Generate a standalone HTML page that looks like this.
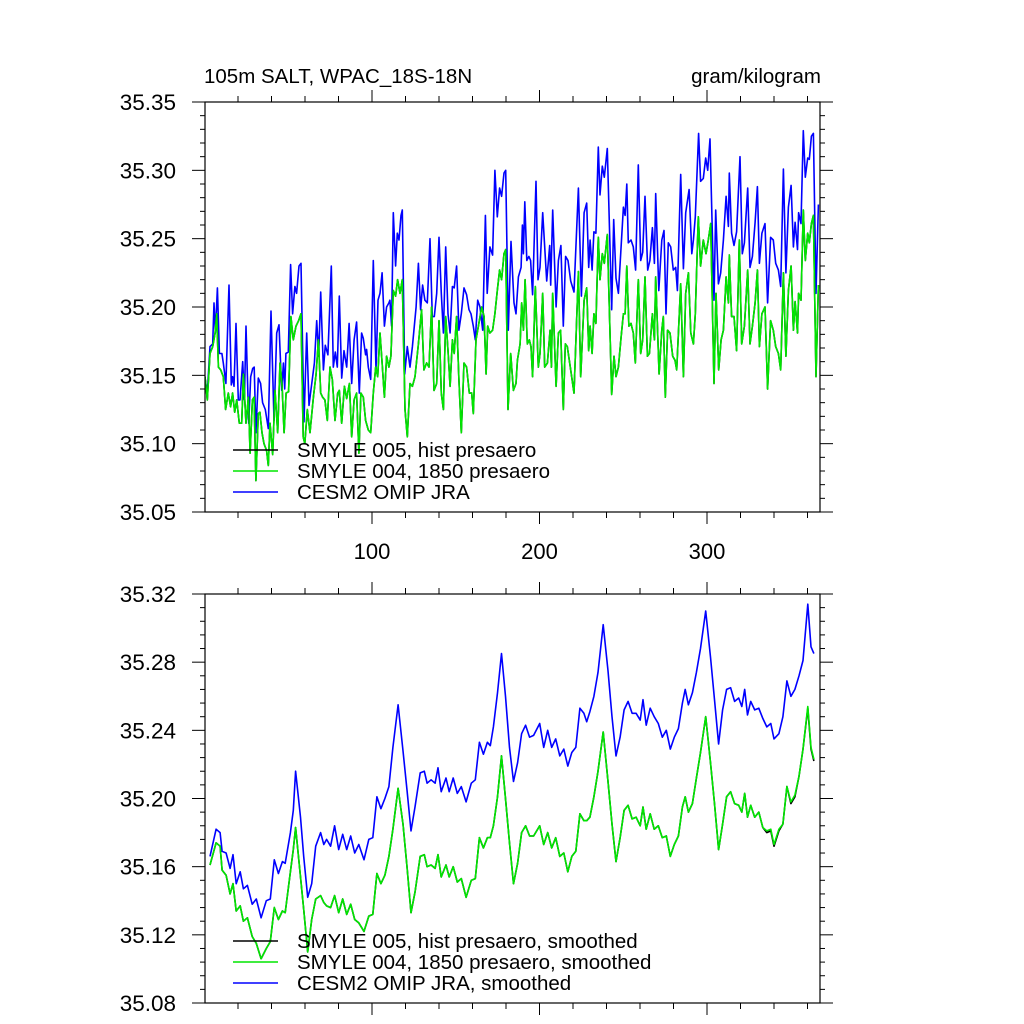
<!DOCTYPE html>
<html><head><meta charset="utf-8"><style>
html,body{margin:0;padding:0;background:#fff;}
svg{display:block;font-family:"Liberation Sans",sans-serif;}
</style></head><body>
<svg id="chart" width="1024" height="1024" viewBox="0 0 1024 1024" xmlns="http://www.w3.org/2000/svg">
<defs>
<clipPath id="clipTop"><rect x="205" y="102" width="615" height="410"/></clipPath>
<clipPath id="clipBot"><rect x="205" y="594" width="615" height="409"/></clipPath>
</defs>
<text x="204" y="83" font-size="20.5">105m SALT, WPAC_18S-18N</text>
<text x="821" y="83" font-size="20.5" text-anchor="end">gram/kilogram</text>
<g id="topAxes"></g>
<g id="botAxes"></g>
</svg>
<script>
const xTickValues = [100, 200, 300];
const topYTicks = [35.05, 35.10, 35.15, 35.20, 35.25, 35.30, 35.35];
const topYLabels = ["35.05","35.10","35.15","35.20","35.25","35.30","35.35"];
const botYTicks = [35.08, 35.12, 35.16, 35.20, 35.24, 35.28, 35.32];
const botYLabels = ["35.08","35.12","35.16","35.20","35.24","35.28","35.32"];

const topBlueDays = [0.3,1.7,3.3,4.9,5.7,6.5,7.7,8.9,10.4,11.2,12.8,14.6,16.0,16.8,17.6,18.8,20.2,21.2,22.8,23.8,24.8,26.4,27.6,28.8,29.7,30.7,32.1,33.5,34.7,36.3,38.1,39.7,41.5,43.1,44.5,46.1,47.1,47.9,48.6,50.0,51.4,52.6,54.0,55.0,56.4,57.6,59.4,61.0,62.4,63.8,65.6,67.0,68.2,69.4,71.0,72.1,73.7,75.7,76.9,78.1,79.3,80.5,81.9,83.3,84.9,86.3,87.9,89.3,90.8,92.4,93.8,94.8,96.2,96.8,97.8,99.2,100.8,102.4,103.6,104.8,106.0,107.4,108.7,110.1,110.7,111.7,112.7,114.1,115.1,116.1,117.3,118.1,119.5,121.1,122.7,124.1,126.3,127.7,129.0,130.2,131.6,133.0,134.6,136.0,137.2,138.6,140.0,141.4,142.6,144.0,145.4,146.6,148.0,149.1,150.5,151.9,153.3,154.9,156.5,157.9,159.1,160.5,161.7,163.1,164.5,166.1,167.7,168.8,170.4,172.0,173.4,174.8,176.2,177.4,178.8,179.8,181.4,183.0,184.8,186.0,187.4,189.0,189.8,190.4,191.2,192.4,193.7,194.7,195.9,197.9,199.1,200.3,201.9,203.1,204.3,206.1,206.7,207.9,209.9,211.3,212.8,214.2,215.6,217.0,218.6,220.6,223.2,225.0,226.6,228.2,229.4,230.2,231.4,232.5,233.7,235.1,236.1,237.5,238.7,240.5,243.1,244.3,245.7,247.1,250.1,251.1,252.1,253.0,254.6,256.0,257.4,259.0,260.4,261.6,263.0,264.6,265.9,267.4,268.6,269.4,271.2,273.0,274.3,275.5,276.9,278.3,279.9,281.3,282.3,284.3,285.9,287.3,289.3,290.9,291.9,293.0,295.0,296.2,297.8,299.2,300.4,301.8,304.2,305.2,306.8,308.2,309.8,311.4,312.8,313.3,314.7,316.1,317.7,319.7,321.1,322.3,324.3,325.7,327.1,328.7,330.1,331.3,332.8,334.6,336.2,338.0,339.6,341.0,342.6,344.0,345.6,347.1,348.6,350.2,351.6,352.6,354.0,354.7,356.1,357.5,358.7,360.1,361.1,362.3,363.5,365.1,366.5];
const topBlueValues = [35.148,35.137,35.171,35.173,35.203,35.181,35.214,35.166,35.166,35.159,35.144,35.216,35.143,35.149,35.142,35.188,35.132,35.132,35.160,35.132,35.186,35.115,35.149,35.155,35.156,35.108,35.148,35.144,35.130,35.125,35.111,35.197,35.117,35.181,35.187,35.139,35.159,35.140,35.166,35.167,35.231,35.195,35.215,35.210,35.230,35.232,35.116,35.181,35.128,35.142,35.159,35.190,35.164,35.211,35.154,35.172,35.165,35.230,35.156,35.167,35.156,35.208,35.148,35.168,35.156,35.188,35.144,35.176,35.189,35.137,35.181,35.177,35.165,35.169,35.156,35.147,35.234,35.154,35.205,35.210,35.225,35.186,35.200,35.203,35.205,35.186,35.269,35.230,35.254,35.249,35.267,35.271,35.151,35.171,35.156,35.171,35.200,35.232,35.198,35.216,35.205,35.203,35.250,35.193,35.193,35.210,35.251,35.210,35.181,35.244,35.195,35.181,35.215,35.214,35.230,35.183,35.195,35.214,35.209,35.198,35.195,35.186,35.176,35.205,35.200,35.183,35.267,35.210,35.244,35.238,35.300,35.266,35.287,35.281,35.298,35.300,35.183,35.248,35.203,35.195,35.222,35.229,35.260,35.239,35.277,35.234,35.237,35.234,35.209,35.292,35.220,35.229,35.269,35.244,35.219,35.245,35.216,35.271,35.200,35.234,35.245,35.186,35.237,35.234,35.219,35.211,35.287,35.208,35.269,35.276,35.229,35.249,35.227,35.255,35.254,35.317,35.282,35.303,35.295,35.316,35.198,35.264,35.221,35.210,35.273,35.267,35.290,35.247,35.249,35.244,35.227,35.304,35.234,35.240,35.281,35.227,35.234,35.258,35.232,35.283,35.212,35.249,35.256,35.195,35.247,35.244,35.227,35.229,35.212,35.297,35.228,35.269,35.286,35.239,35.249,35.266,35.327,35.292,35.294,35.309,35.300,35.323,35.205,35.271,35.217,35.225,35.249,35.281,35.259,35.298,35.254,35.245,35.255,35.310,35.239,35.247,35.287,35.229,35.237,35.262,35.288,35.232,35.254,35.261,35.203,35.251,35.249,35.232,35.227,35.215,35.301,35.225,35.273,35.289,35.244,35.262,35.242,35.269,35.261,35.329,35.295,35.309,35.308,35.325,35.327,35.210,35.275];

const topGreenDays = [0.3,1.7,3.3,4.9,6.3,7.3,8.3,9.7,11.2,12.6,14.2,15.6,16.8,18.0,19.2,20.8,22.2,23.2,24.8,26.2,27.2,28.6,29.6,30.7,32.1,33.1,34.3,35.5,37.1,38.1,39.1,40.7,42.1,43.7,45.1,46.3,47.5,48.7,50.2,51.6,53.0,54.6,56.2,57.6,58.9,59.9,61.4,63.0,65.0,66.6,68.0,69.4,70.5,71.9,73.3,74.9,76.3,77.9,79.5,80.5,81.9,83.5,84.9,86.5,87.9,89.3,90.8,92.2,93.4,94.8,96.2,97.8,99.2,100.8,102.2,103.4,104.8,106.2,107.4,108.7,110.1,111.3,112.7,114.1,115.3,116.7,118.1,119.7,121.1,122.7,124.1,125.7,127.7,129.6,131.0,132.6,134.0,135.6,137.0,138.6,140.0,141.4,142.6,144.0,145.4,146.6,148.0,149.1,150.5,151.9,153.3,154.9,156.5,158.1,159.5,160.5,162.1,163.5,165.5,166.9,168.1,169.1,170.4,172.0,173.4,174.8,176.2,177.4,178.8,179.8,181.2,182.8,184.4,186.0,186.8,188.4,189.4,190.4,191.4,192.7,193.9,194.9,195.9,197.5,199.3,200.3,201.9,203.1,204.7,206.3,207.1,207.9,209.9,211.3,212.6,214.2,215.4,216.6,218.6,220.6,223.2,224.6,226.6,228.2,229.4,230.2,231.4,232.5,233.7,235.1,236.1,237.5,238.7,240.5,243.1,244.5,245.7,247.1,248.7,250.1,251.1,252.1,253.4,254.6,256.0,257.2,259.0,260.4,261.6,263.0,264.4,265.6,267.4,268.6,269.4,271.4,273.0,273.9,275.1,276.5,277.9,279.5,280.9,281.9,284.3,285.9,287.3,288.9,290.3,291.9,293.0,294.8,296.2,297.8,299.4,300.8,302.2,304.2,305.4,307.0,308.4,309.8,311.4,312.8,313.3,314.7,316.1,317.7,319.3,320.7,322.3,324.3,325.7,327.1,328.7,330.1,331.3,332.8,334.6,336.2,338.0,339.6,341.0,342.6,344.0,345.6,347.1,348.6,350.2,351.6,352.6,354.0,354.7,356.1,357.5,358.7,360.1,361.1,362.3,363.5,365.1,366.5];
const topGreenValues = [35.149,35.132,35.166,35.171,35.181,35.195,35.156,35.154,35.149,35.125,35.137,35.127,35.137,35.123,35.132,35.115,35.115,35.151,35.115,35.134,35.093,35.132,35.134,35.073,35.122,35.123,35.108,35.100,35.095,35.084,35.115,35.092,35.139,35.108,35.159,35.142,35.108,35.137,35.138,35.193,35.176,35.186,35.190,35.195,35.105,35.100,35.125,35.108,35.134,35.151,35.176,35.137,35.134,35.132,35.117,35.156,35.147,35.117,35.137,35.139,35.115,35.142,35.133,35.144,35.105,35.132,35.137,35.093,35.137,35.134,35.117,35.110,35.108,35.137,35.156,35.149,35.181,35.156,35.134,35.164,35.156,35.164,35.212,35.208,35.220,35.210,35.220,35.125,35.105,35.144,35.142,35.149,35.173,35.198,35.154,35.159,35.156,35.200,35.139,35.144,35.190,35.137,35.125,35.193,35.168,35.142,35.176,35.166,35.193,35.147,35.108,35.159,35.156,35.137,35.137,35.122,35.176,35.186,35.200,35.193,35.151,35.186,35.181,35.183,35.195,35.212,35.227,35.220,35.239,35.242,35.125,35.166,35.139,35.144,35.161,35.173,35.203,35.183,35.220,35.173,35.176,35.171,35.149,35.215,35.156,35.166,35.210,35.156,35.159,35.183,35.156,35.210,35.142,35.181,35.183,35.125,35.173,35.171,35.154,35.137,35.226,35.149,35.205,35.214,35.168,35.186,35.166,35.195,35.188,35.251,35.220,35.239,35.232,35.253,35.136,35.164,35.149,35.156,35.178,35.195,35.195,35.230,35.186,35.188,35.181,35.159,35.220,35.166,35.176,35.222,35.164,35.166,35.195,35.176,35.222,35.151,35.183,35.193,35.134,35.183,35.181,35.164,35.161,35.154,35.217,35.149,35.210,35.225,35.181,35.173,35.195,35.266,35.230,35.249,35.239,35.249,35.261,35.144,35.210,35.154,35.176,35.183,35.222,35.203,35.238,35.193,35.193,35.168,35.249,35.173,35.186,35.227,35.173,35.186,35.203,35.227,35.171,35.195,35.200,35.140,35.190,35.183,35.171,35.166,35.154,35.225,35.164,35.212,35.230,35.183,35.204,35.181,35.210,35.205,35.271,35.234,35.254,35.247,35.261,35.267,35.149,35.216];
const topBlackValues = [35.149,35.132,35.166,35.171,35.181,35.195,35.156,35.154,35.149,35.125,35.137,35.127,35.137,35.123,35.132,35.115,35.115,35.151,35.115,35.134,35.093,35.132,35.134,35.073,35.122,35.123,35.108,35.100,35.095,35.084,35.115,35.092,35.139,35.108,35.159,35.142,35.108,35.137,35.138,35.193,35.176,35.186,35.190,35.195,35.105,35.100,35.125,35.108,35.134,35.151,35.176,35.137,35.134,35.132,35.117,35.156,35.147,35.117,35.137,35.139,35.115,35.142,35.133,35.144,35.105,35.132,35.137,35.093,35.137,35.134,35.117,35.110,35.108,35.137,35.156,35.149,35.181,35.156,35.134,35.164,35.156,35.164,35.212,35.208,35.220,35.210,35.220,35.125,35.105,35.144,35.142,35.149,35.173,35.198,35.154,35.159,35.156,35.200,35.139,35.144,35.190,35.137,35.125,35.193,35.168,35.142,35.176,35.166,35.193,35.147,35.108,35.159,35.156,35.137,35.137,35.122,35.176,35.186,35.200,35.193,35.151,35.186,35.181,35.183,35.195,35.212,35.227,35.220,35.239,35.242,35.125,35.166,35.139,35.144,35.161,35.173,35.203,35.183,35.220,35.173,35.176,35.171,35.149,35.215,35.156,35.166,35.210,35.156,35.159,35.183,35.156,35.210,35.142,35.181,35.183,35.125,35.173,35.171,35.154,35.137,35.226,35.149,35.205,35.214,35.168,35.186,35.166,35.195,35.188,35.251,35.220,35.239,35.232,35.253,35.136,35.164,35.149,35.156,35.178,35.195,35.195,35.230,35.186,35.188,35.181,35.159,35.220,35.166,35.176,35.222,35.164,35.166,35.195,35.176,35.222,35.151,35.183,35.193,35.134,35.183,35.181,35.164,35.161,35.154,35.217,35.149,35.210,35.225,35.181,35.173,35.195,35.266,35.230,35.249,35.239,35.249,35.261,35.144,35.210,35.154,35.176,35.183,35.222,35.203,35.238,35.193,35.193,35.168,35.249,35.173,35.186,35.227,35.173,35.186,35.203,35.227,35.171,35.195,35.200,35.140,35.190,35.183,35.171,35.166,35.154,35.225,35.164,35.212,35.230,35.183,35.204,35.181,35.210,35.205,35.271,35.234,35.254,35.247,35.261,35.267,35.149,35.216];

const botDays = [3.3,6.9,9.3,10.5,12.9,15.3,17.0,18.9,21.3,23.2,25.6,28.5,30.9,33.8,36.9,39.3,41.7,44.1,46.5,48.2,51.3,53.0,54.4,57.3,59.2,61.6,64.0,66.4,69.3,71.2,72.9,75.3,77.7,80.1,82.5,84.9,87.3,89.7,92.1,95.2,98.1,100.5,102.9,105.3,107.7,110.1,112.5,115.6,118.5,120.9,123.3,125.7,128.8,131.2,132.9,135.3,137.7,139.4,141.3,144.2,146.1,148.5,150.9,153.3,156.2,159.3,161.7,164.1,166.5,168.9,170.6,172.5,174.9,177.3,179.7,182.1,184.5,186.9,189.3,191.7,194.1,196.5,200.1,202.5,204.9,207.3,209.7,212.1,214.5,216.9,219.3,221.7,224.1,226.5,228.2,230.1,232.5,234.9,238.0,240.9,243.3,245.7,248.1,250.5,252.9,255.3,257.7,260.1,261.8,263.7,266.1,268.5,270.9,273.3,275.7,278.1,280.5,282.9,285.3,287.0,288.9,291.3,293.7,296.1,299.2,302.1,304.5,306.9,309.3,311.7,314.1,316.5,318.9,320.8,322.5,324.2,326.1,328.5,330.9,333.3,335.7,338.1,340.0,342.9,345.3,347.7,350.1,352.5,354.9,357.3,360.2,362.1,363.8];
const botBlueValues = [35.166,35.182,35.180,35.169,35.168,35.159,35.167,35.150,35.157,35.147,35.149,35.138,35.141,35.130,35.140,35.141,35.164,35.156,35.163,35.162,35.180,35.193,35.216,35.189,35.166,35.142,35.150,35.172,35.180,35.173,35.176,35.172,35.184,35.170,35.179,35.170,35.178,35.168,35.173,35.164,35.176,35.177,35.201,35.194,35.200,35.207,35.230,35.255,35.228,35.205,35.181,35.195,35.215,35.216,35.209,35.211,35.209,35.218,35.204,35.212,35.204,35.212,35.203,35.207,35.198,35.209,35.211,35.233,35.226,35.233,35.231,35.242,35.262,35.285,35.260,35.230,35.210,35.221,35.238,35.243,35.236,35.237,35.244,35.230,35.240,35.230,35.235,35.225,35.229,35.219,35.227,35.230,35.253,35.250,35.245,35.251,35.260,35.274,35.302,35.275,35.248,35.225,35.236,35.252,35.257,35.250,35.250,35.246,35.258,35.243,35.253,35.248,35.244,35.236,35.240,35.229,35.236,35.241,35.256,35.264,35.255,35.262,35.274,35.288,35.310,35.283,35.258,35.232,35.252,35.264,35.265,35.257,35.259,35.254,35.264,35.249,35.257,35.252,35.253,35.247,35.242,35.244,35.235,35.238,35.248,35.269,35.260,35.264,35.272,35.281,35.314,35.289,35.285];
const botGreenValues = [35.161,35.174,35.172,35.158,35.155,35.144,35.150,35.134,35.137,35.128,35.130,35.119,35.115,35.106,35.112,35.116,35.136,35.129,35.134,35.133,35.157,35.170,35.183,35.154,35.135,35.110,35.129,35.141,35.143,35.139,35.137,35.136,35.143,35.133,35.141,35.132,35.138,35.129,35.127,35.122,35.131,35.132,35.156,35.150,35.155,35.166,35.182,35.206,35.185,35.160,35.133,35.145,35.166,35.167,35.160,35.161,35.159,35.167,35.154,35.161,35.154,35.160,35.151,35.153,35.142,35.152,35.153,35.177,35.171,35.177,35.177,35.184,35.201,35.225,35.200,35.174,35.150,35.162,35.180,35.184,35.178,35.178,35.184,35.173,35.180,35.171,35.177,35.166,35.168,35.157,35.166,35.169,35.191,35.187,35.187,35.189,35.201,35.216,35.239,35.210,35.185,35.163,35.177,35.193,35.196,35.188,35.189,35.184,35.195,35.182,35.191,35.182,35.184,35.177,35.178,35.166,35.173,35.178,35.195,35.201,35.192,35.197,35.212,35.227,35.248,35.221,35.197,35.170,35.185,35.201,35.204,35.197,35.196,35.192,35.203,35.189,35.196,35.189,35.192,35.183,35.181,35.182,35.173,35.182,35.185,35.207,35.198,35.202,35.213,35.229,35.254,35.230,35.223];
const botBlackValues = [35.161,35.174,35.172,35.158,35.155,35.144,35.150,35.134,35.137,35.128,35.130,35.119,35.115,35.106,35.112,35.116,35.136,35.129,35.134,35.133,35.157,35.170,35.183,35.154,35.135,35.110,35.129,35.141,35.143,35.139,35.137,35.136,35.143,35.133,35.141,35.132,35.138,35.129,35.127,35.122,35.131,35.132,35.156,35.150,35.155,35.166,35.182,35.206,35.185,35.160,35.133,35.145,35.166,35.167,35.160,35.161,35.159,35.167,35.154,35.161,35.154,35.160,35.151,35.153,35.142,35.152,35.153,35.177,35.171,35.177,35.177,35.184,35.201,35.225,35.200,35.174,35.150,35.162,35.180,35.184,35.178,35.178,35.184,35.173,35.180,35.171,35.177,35.166,35.168,35.157,35.166,35.169,35.191,35.187,35.187,35.189,35.201,35.216,35.239,35.210,35.185,35.163,35.177,35.193,35.196,35.188,35.189,35.184,35.195,35.182,35.191,35.182,35.184,35.177,35.178,35.166,35.173,35.178,35.195,35.201,35.192,35.197,35.212,35.227,35.248,35.221,35.197,35.170,35.185,35.201,35.204,35.197,35.196,35.192,35.203,35.189,35.196,35.189,35.192,35.183,35.180,35.181,35.172,35.181,35.185,35.207,35.197,35.201,35.213,35.229,35.253,35.229,35.222];

const NS = "http://www.w3.org/2000/svg";
function mk(tag, attrs, parent){
  const e = document.createElementNS(NS, tag);
  for (const k in attrs) e.setAttribute(k, attrs[k]);
  parent.appendChild(e);
  return e;
}
const X0 = 205, X1 = 820, XMAX = 367.5;
function xScale(d){ return 204.5 + d * 1.675; }

function panel(g, top, bottom, ymin, ymax, yTicks, yLabels, minorStep, showXLabels, series, legendLabels, clipId, prefix){
  const yScale = v => bottom - (v - ymin) / (ymax - ymin) * (bottom - top);
  const sg = mk("g", {"clip-path": "url(#" + clipId + ")"}, g);
  series.forEach(s => {
    let d = "";
    s.days.forEach((day, i) => { d += (i ? "L" : "M") + xScale(day).toFixed(1) + " " + yScale(s.vals[i]).toFixed(1); });
    const p = mk("path", {d: d, fill: "none", stroke: s.color, "stroke-width": 1.6, "stroke-linejoin": "round"}, sg);
    
    
  });
  const fr = mk("rect", {x: X0, y: top, width: X1 - X0, height: bottom - top, fill: "none", stroke: "#000", "stroke-width": 1.2}, g);
  
  
  const tg = mk("g", {stroke: "#000", "stroke-width": 1}, g);
  for (let v = ymin; v <= ymax + 1e-9; v += minorStep) {
    const y = yScale(v);
    const major = yTicks.some(t => Math.abs(t - v) < 1e-6);
    const L = major ? 13 : 5;
    mk("line", {x1: X0 - L, y1: y, x2: X0, y2: y}, tg);
    mk("line", {x1: X1, y1: y, x2: X1 + L, y2: y}, tg);
  }
  yTicks.forEach((t, i) => {
    const tx = mk("text", {x: 176, y: yScale(t) + 8, "font-size": 22.5, "text-anchor": "end"}, g);
    tx.textContent = yLabels[i];
    
    
  });
  for (let d = 20; d <= XMAX; d += 20) {
    const x = xScale(d);
    const major = xTickValues.indexOf(d) >= 0;
    const L = major ? 12 : 6;
    mk("line", {x1: x, y1: bottom, x2: x, y2: bottom + L}, tg);
    mk("line", {x1: x, y1: top - L, x2: x, y2: top}, tg);
  }
  if (showXLabels) {
    xTickValues.forEach(v => {
      const tx = mk("text", {x: xScale(v), y: bottom + 47, "font-size": 22, "text-anchor": "middle"}, g);
      tx.textContent = String(v);
      
      
    });
  }
  const lg = mk("g", {}, g);
  
  
  legendLabels.forEach((lab, i) => {
    const s = series.filter(q => q.legend === i)[0];
    const ly = bottom - 62 + i * 21;
    mk("line", {x1: 233, y1: ly, x2: 278, y2: ly, stroke: s.color, "stroke-width": 1.5}, lg);
    const tx = mk("text", {x: 297, y: ly + 7, "font-size": 20.5}, lg);
    tx.textContent = lab;
    
    
  });
}

panel(document.getElementById("topAxes"), 102, 512, 35.05, 35.35, topYTicks, topYLabels, 0.01, true,
  [
    {name: "cesm2-omip-jra", color: "#0000ff", days: topBlueDays, vals: topBlueValues, legend: 2},
    {name: "smyle-005", color: "#000000", days: topGreenDays, vals: topBlackValues, legend: 0},
    {name: "smyle-004", color: "#00e600", days: topGreenDays, vals: topGreenValues, legend: 1}
  ],
  ["SMYLE 005, hist presaero", "SMYLE 004, 1850 presaero", "CESM2 OMIP JRA"], "clipTop", "top");

panel(document.getElementById("botAxes"), 594, 1003, 35.08, 35.32, botYTicks, botYLabels, 0.008, false,
  [
    {name: "cesm2-omip-jra-smoothed", color: "#0000ff", days: botDays, vals: botBlueValues, legend: 2},
    {name: "smyle-005-smoothed", color: "#000000", days: botDays, vals: botBlackValues, legend: 0},
    {name: "smyle-004-smoothed", color: "#00e600", days: botDays, vals: botGreenValues, legend: 1}
  ],
  ["SMYLE 005, hist presaero, smoothed", "SMYLE 004, 1850 presaero, smoothed", "CESM2 OMIP JRA, smoothed"], "clipBot", "bottom");
</script>
</body></html>
